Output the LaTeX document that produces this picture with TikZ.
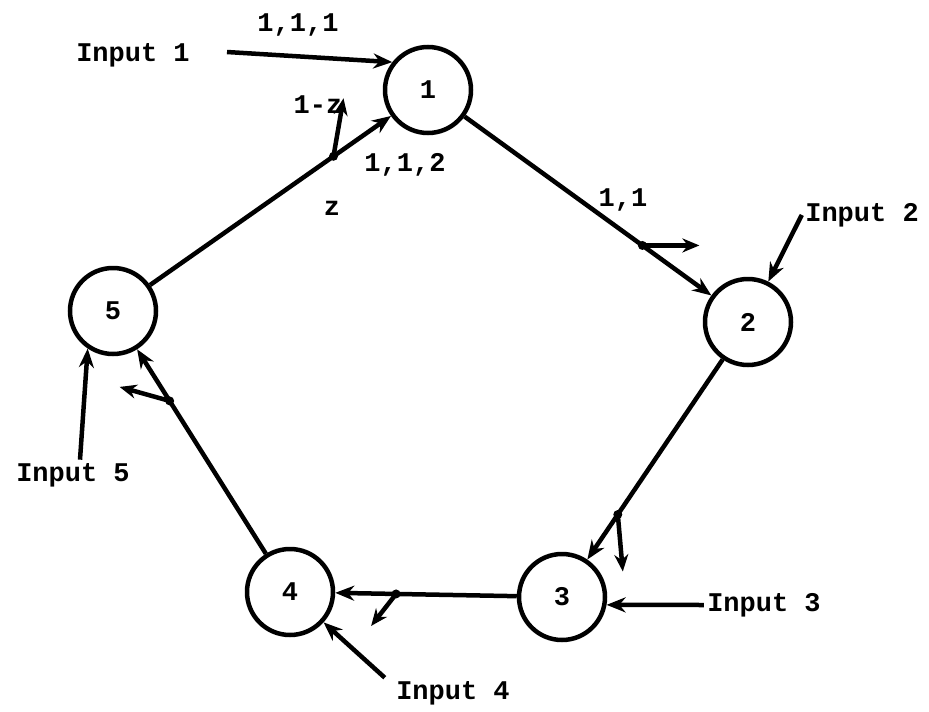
\documentclass[tikz,border=0pt]{standalone}
\usepackage{fontspec}
\setmonofont{Liberation Mono}
\usetikzlibrary{arrows.meta}
\begin{document}
\begin{tikzpicture}[x=1pt, y=-1pt,
    every node/.style={font=\ttfamily\bfseries\fontsize{27}{29}\selectfont},
    state/.style={circle, draw, line width=4.5pt, minimum size=86pt, inner sep=0pt},
    edge/.style={line width=4.5pt, -{Stealth[length=19pt,width=15pt]}},
    tap/.style={line width=4.5pt, -{Stealth[length=17pt,width=14pt]}}]
  \useasboundingbox (0,0) rectangle (929,712);
  \node[state] (n1) at (428,90) {1};
  \node[state] (n2) at (748,322) {2};
  \node[state] (n3) at (562,597) {3};
  \node[state] (n4) at (290,592) {4};
  \node[state] (n5) at (113,311) {5};
  % inputs
  \node (in1) at (133,55) {Input 1};
  \node (in2) at (862,215) {Input 2};
  \node (in3) at (764,605) {Input 3};
  \node (in4) at (453,693) {Input 4};
  \node (in5) at (73,475) {Input 5};
  \coordinate (t1) at (227,52);
  \draw[edge] (t1) -- (n1.142);
  \draw[edge] (in2.west) -- (n2);
  \draw[edge] (in3.west) -- (n3.350);
  \draw[edge] ([xshift=-8pt]in4.north west) -- (n4);
  \draw[edge] ([xshift=7pt]in5.north) -- (n5.236);
  % ring
  \draw[edge] (n5) -- (n1);
  \draw[edge] (n1) -- (n2);
  \draw[edge] (n2) -- (n3);
  \draw[edge] (n3) -- (n4);
  \draw[edge] (n4) -- (n5);
  \path (n5.center) -- (n1.center) coordinate[pos=0.7] (b1);
  \path (n1.center) -- (n2.center) coordinate[pos=0.67] (b2);
  \path (n2.center) -- (n3.center) coordinate[pos=0.7] (b3);
  \path (n3.center) -- (n4.center) coordinate[pos=0.61] (b4);
  \path (n4.center) -- (n5.center) coordinate[pos=0.68] (b5);
  \draw[tap] (b1) -- ++(10,-58);
  \draw[tap] (b2) -- ++(57,0);
  \draw[tap] (b3) -- ++(5,57);
  \draw[tap] (b4) -- ++(-25,32);
  \draw[tap] (b5) -- ++(-50,-14);
  \fill (b1) circle (4.5pt) (b2) circle (4.5pt) (b3) circle (4.5pt) (b4) circle (4.5pt) (b5) circle (4.5pt);
  % labels
  \node (l111) at (298,25) {1,1,1};
  \node (l1z) at (318,105) {1-z};
  \node (l112) at (405,165) {1,1,2};
  \node (lz) at (332,208) {z};
  \node (l11) at (623,200) {1,1};
\end{tikzpicture}
\end{document}
